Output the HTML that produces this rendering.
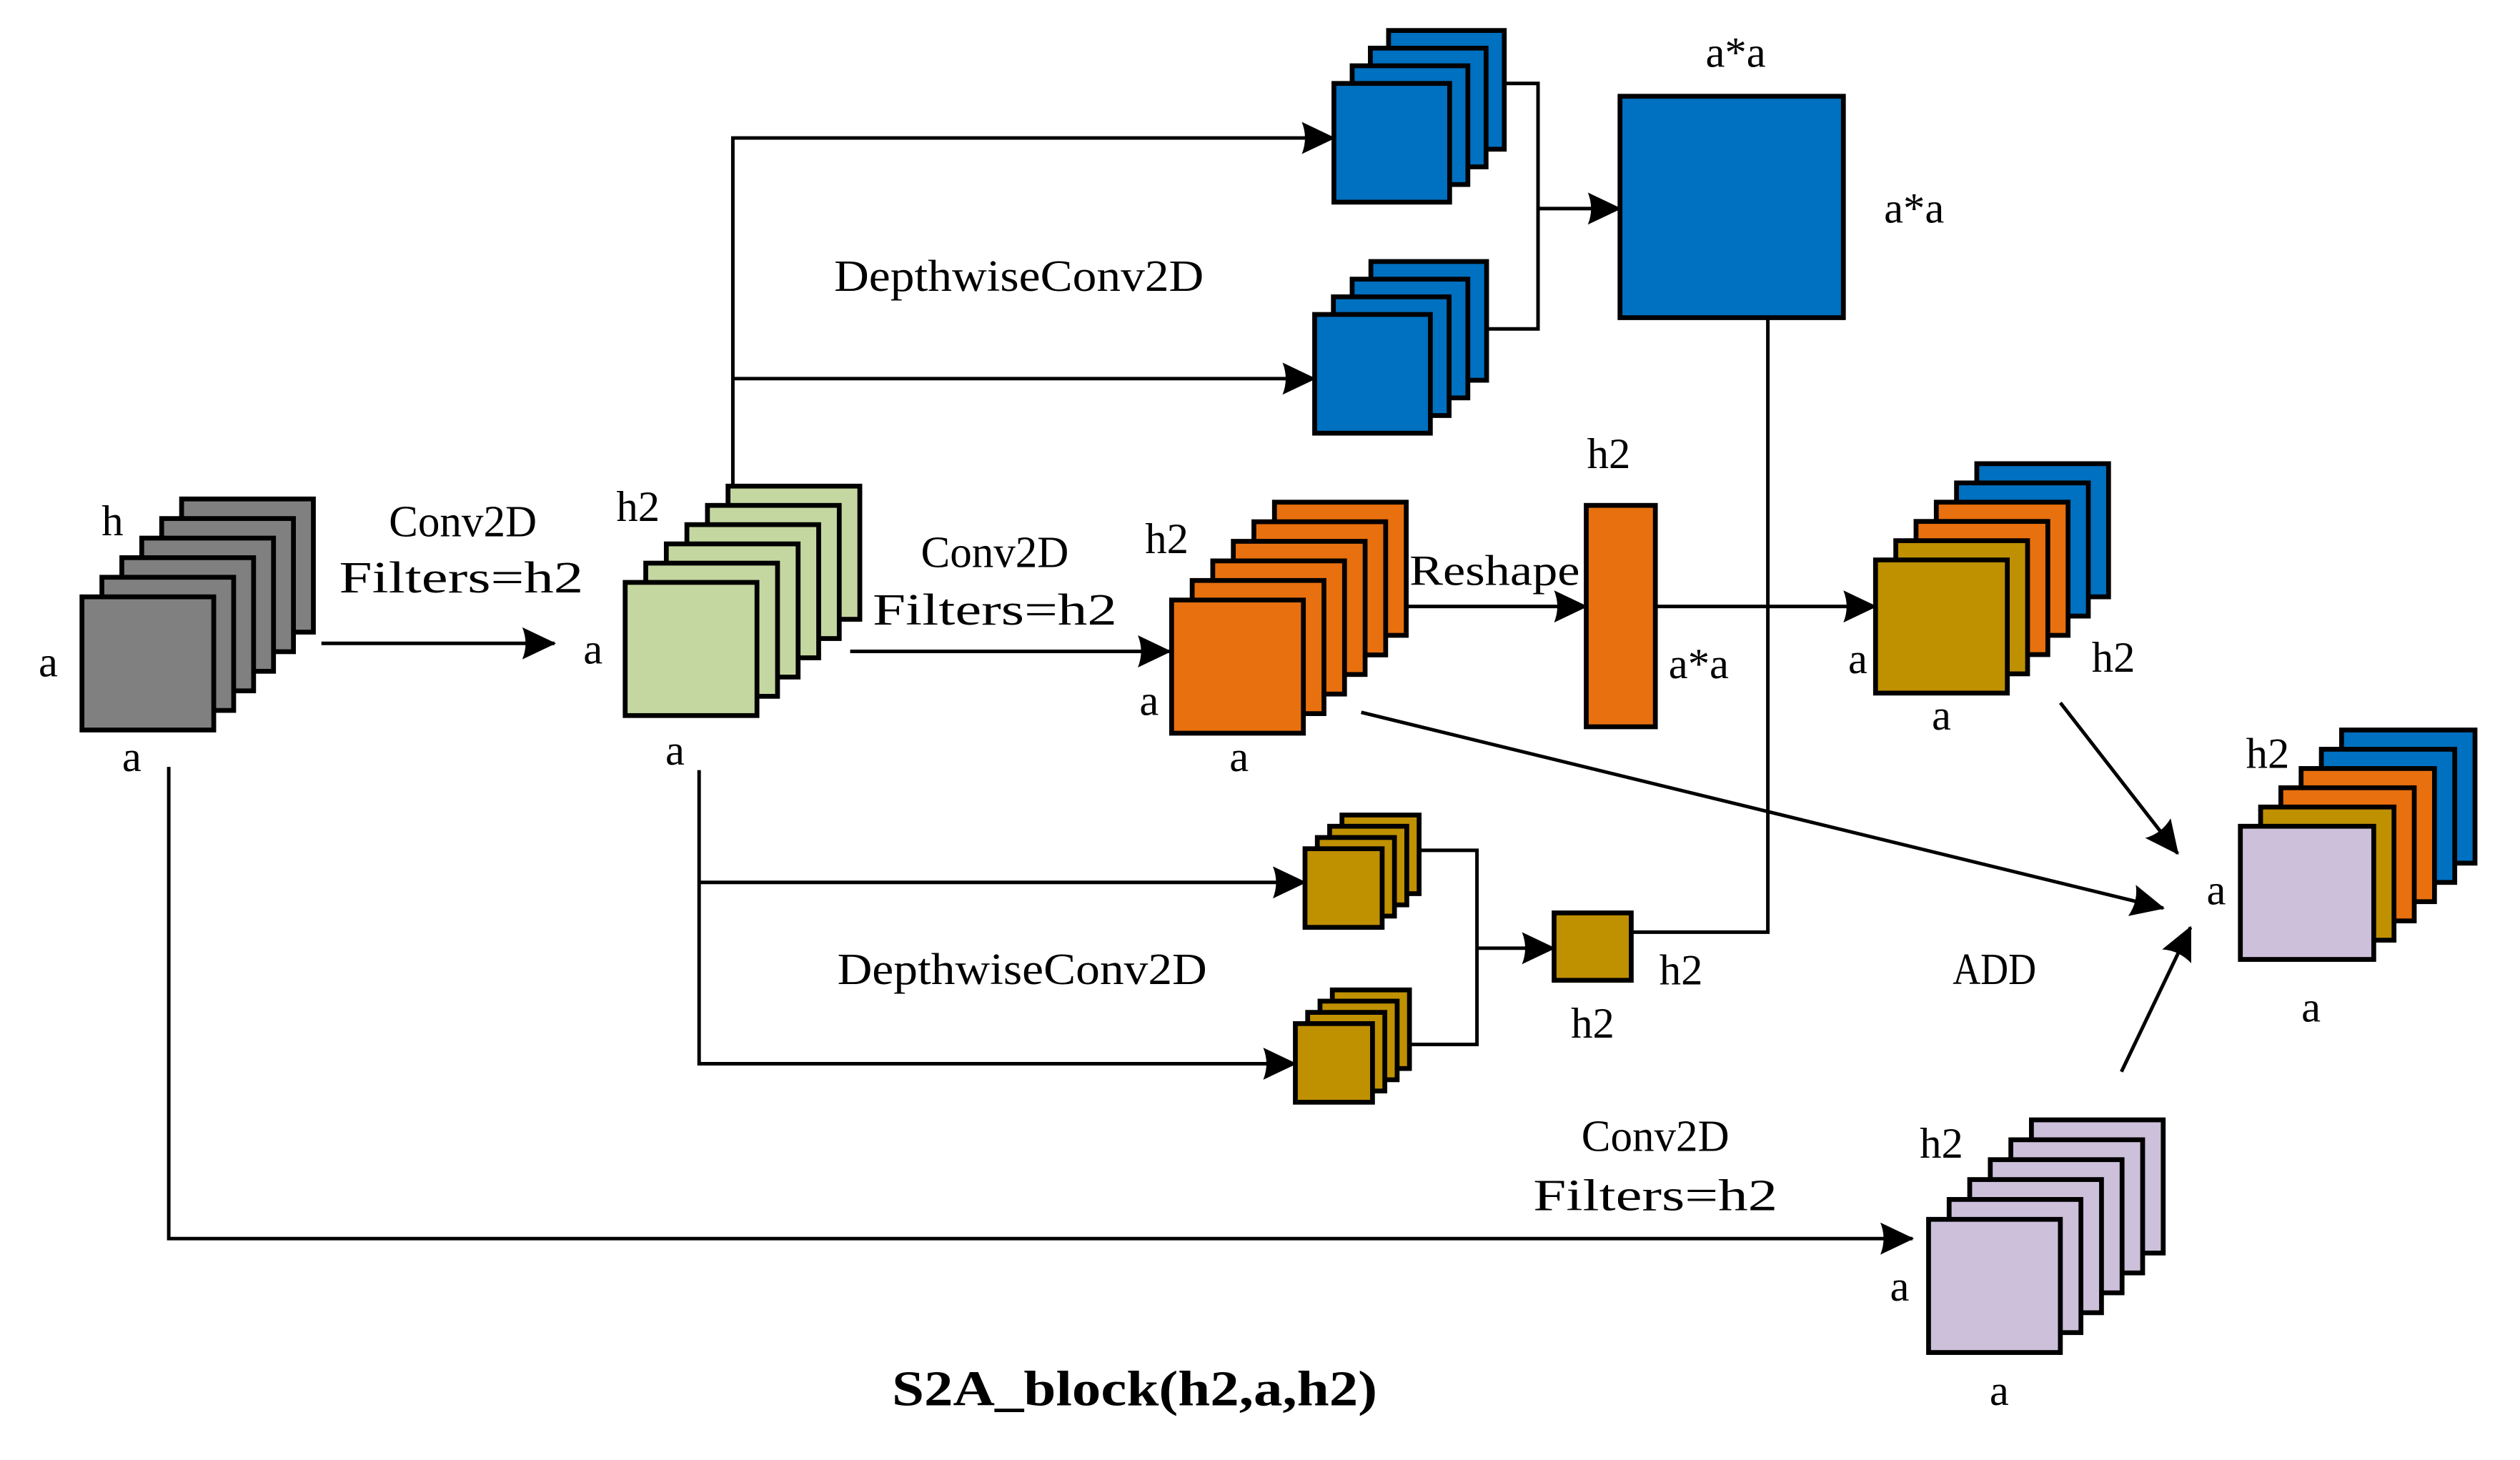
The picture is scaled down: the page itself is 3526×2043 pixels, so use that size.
<!DOCTYPE html>
<html><head><meta charset="utf-8"><style>
html,body{margin:0;padding:0;background:#fff;}
svg{display:block;}
text{font-family:"Liberation Serif",serif;font-size:27px;fill:#000;dominant-baseline:central;text-anchor:middle;}
</style></head><body>
<svg id="s" width="3526" height="2043" viewBox="0 0 1568 910" preserveAspectRatio="none" xmlns="http://www.w3.org/2000/svg">
<defs>
<marker id="a2" markerWidth="22" markerHeight="20" refX="20" refY="10" orient="auto" markerUnits="userSpaceOnUse"><path d="M0,0 L21,10 L0,20 Q4,10 0,0Z" fill="#000"/></marker></defs>
<g id="g"></g>
</svg>
<script>
var g=document.getElementById('g'),h='';
var GR='#808080',GN='#c5d7a0',OR='#e8700e',BL='#0070c0',GD='#bf9000',LV='#ccc0da';
function stack(fx,fy,w,hh,bx,by,cols){var n=cols.length;for(var i=0;i<n;i++){var t=(n-1-i)/(n-1);var x=fx+(bx-fx)*t,y=fy+(by-fy)*t;h+='<rect x="'+x+'" y="'+y+'" width="'+w+'" height="'+hh+'" fill="'+cols[i]+'" stroke="#000" stroke-width="3"/>';}}
function rep(c,n){var a=[];for(var i=0;i<n;i++)a.push(c);return a;}
function L(p,arrow){h+='<polyline points="'+p+'" fill="none" stroke="#000" stroke-width="2.2"'+(arrow?' marker-end="url(#a2)"':'')+'/>';}
function T(x,y,s,len,fs,extra){h+='<text x="'+x+'" y="'+y+'"'+(len?' textLength="'+len+'" lengthAdjust="spacingAndGlyphs"':'')+(fs?' style="font-size:'+fs+'px;'+(extra||'')+'"':'')+'>'+s+'</text>';}
L('200,401 345,401',1);
L('456,303 456,86 830,86',1);
L('456,236 818,236',1);
L('529,406 728,406',1);
L('435,480 435,663 806,663',1);
L('435,550 812,550',1);
L('936,52 957,52 957,205 924,205');
L('957,130 1008,130',1);
L('1100,198 1100,581 1015,581');
L('883,530 919,530 919,651 877,651');
L('919,591 967,591',1);
L('874,378 987,378',1);
L('1030,378 1167,378',1);
L('847,444 1346,566',1);
L('1282,438 1355,532',1);
L('1320,668 1363,578',1);
L('105,478 105,772 1190,772',1);
stack(51,372,82,83,113,311,rep(GR,6));
stack(389,363,82,83,453,303,rep(GN,6));
stack(729,374,82,83,793,313,rep(OR,6));
stack(830,52,72,74,864,19,rep(BL,4));
stack(818,196,72,74,853,163,rep(BL,4));
h+='<rect x="1008" y="60" width="139" height="138" fill="'+BL+'" stroke="#000" stroke-width="3"/>';
h+='<rect x="987" y="315" width="43" height="138" fill="'+OR+'" stroke="#000" stroke-width="3"/>';
stack(1167,349,82,83,1230,289,[BL,BL,OR,OR,GD,GD]);
stack(1394,515,83,83,1457,455,[BL,BL,OR,OR,GD,LV]);
stack(812,529,48,49,835,508,rep(GD,4));
stack(806,638,48,49,829,617,rep(GD,4));
h+='<rect x="967" y="569" width="48" height="42" fill="'+GD+'" stroke="#000" stroke-width="3"/>';
stack(1200,760,82,83,1264,698,rep(LV,6));
T(70,325,'h');T(288,325,'Conv2D',92,28);T(287,360,'Filters=h2',152,28);
T(30,413,'a');T(82,472,'a');
T(397,316,'h2');T(369,405,'a');T(420,468,'a');
T(619,344,'Conv2D',92,28);T(619,380,'Filters=h2',152,28);
T(726,336,'h2');T(715,437,'a');T(771,472,'a');
T(634,172,'DepthwiseConv2D',230,28);
T(1080,33,'a*a');T(1191,130,'a*a');T(1001,283,'h2');
T(930,356,'Reshape',106);T(1057,414,'a*a');
T(1156,411,'a');T(1315,410,'h2');T(1208,446,'a');
T(1411,470,'h2');T(1379,555,'a');T(1438,628,'a');
T(1241,604,'ADD',52,28);
T(636,604,'DepthwiseConv2D',230,28);
T(1046,605,'h2');T(991,638,'h2');
T(1030,708,'Conv2D',92,28);T(1030,745,'Filters=h2',152,28);
T(1208,713,'h2');T(1182,802,'a');T(1244,867,'a');
T(706,866,'S2A_block(h2,a,h2)',302,31,'font-weight:bold;');
g.innerHTML=h;
</script>
</body></html>
